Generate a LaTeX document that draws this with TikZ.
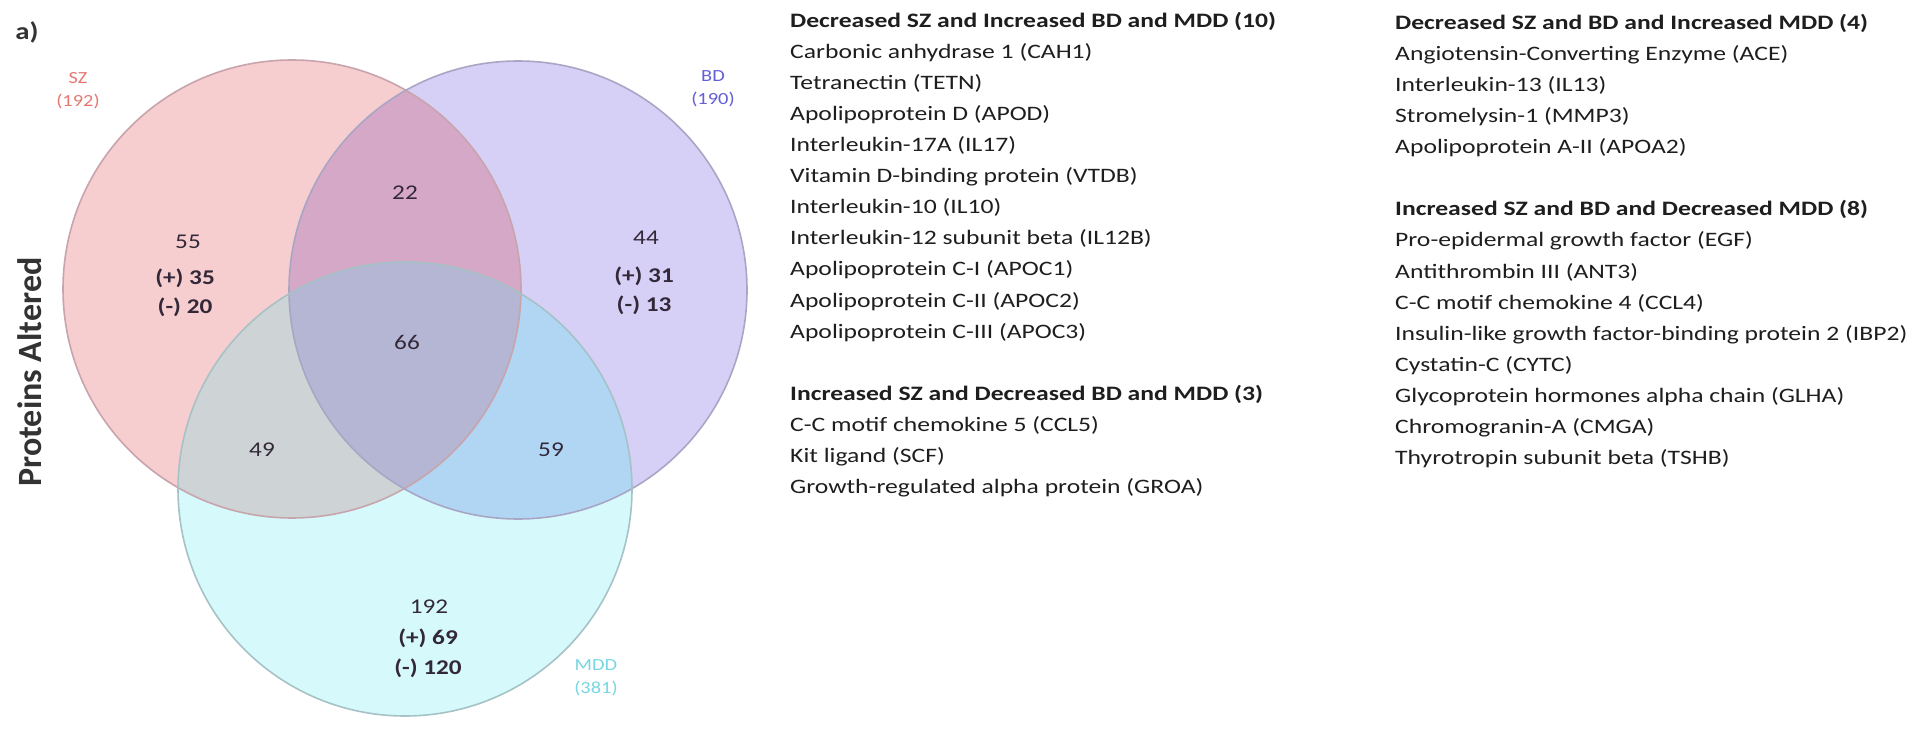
\documentclass[tikz,border=0pt]{standalone}
\usepackage{fontspec}
\setmainfont{Carlito}[FakeStretch=1.2]
\newfontfamily\plainfont{Carlito}
\newfontfamily\listfont{Carlito}[FakeStretch=1.25]
\definecolor{SZf}{HTML}{F6CED0}
\definecolor{BDf}{HTML}{D6D0F6}
\definecolor{MDDf}{HTML}{D6FAFC}
\definecolor{SZBDf}{HTML}{D6A8C8}
\definecolor{SZMDDf}{HTML}{CED4D6}
\definecolor{BDMDDf}{HTML}{B0D6F4}
\definecolor{ALLf}{HTML}{B4B6D4}
\definecolor{SZtxt}{HTML}{E67873}
\definecolor{BDtxt}{HTML}{645FD7}
\definecolor{MDDtxt}{HTML}{78D7E1}
\definecolor{numtxt}{HTML}{332838}
\definecolor{listtxt}{HTML}{1E1E1E}
\definecolor{SZline}{HTML}{C8A4AC}
\definecolor{BDline}{HTML}{A8A6C4}
\definecolor{MDDline}{HTML}{A6C2C6}
\tikzset{
  num/.style={text=numtxt, font=\fontsize{21}{24}\selectfont, inner sep=0pt, align=center},
  numb/.style={num, font=\fontsize{21}{24}\selectfont\bfseries},
  setlbl/.style={font=\fontsize{17}{20}\selectfont, inner sep=0pt},
  listline/.style={anchor=west, inner sep=0pt, text=listtxt, font=\listfont\fontsize{20.5}{24}\selectfont, text height=14pt, text depth=4pt},
  listhead/.style={listline, font=\listfont\fontsize{20.5}{24}\selectfont\bfseries},
}
\begin{document}
\begin{tikzpicture}[x=1pt,y=-1pt]
\useasboundingbox (0,0) rectangle (1920,730);
\fill[white] (0,0) rectangle (1920,730);
\coordinate (csz) at (292,289);
\coordinate (cbd) at (518,290);
\coordinate (cmdd) at (405,489);
% region fills
\fill[SZf] (csz) circle[radius=229pt];
\fill[BDf] (cbd) circle[radius=229pt];
\fill[MDDf] (cmdd) circle[radius=227pt];
\begin{scope}
  \clip (csz) circle[radius=229pt];
  \fill[SZBDf] (cbd) circle[radius=229pt];
  \fill[SZMDDf] (cmdd) circle[radius=227pt];
\end{scope}
\begin{scope}
  \clip (cbd) circle[radius=229pt];
  \fill[BDMDDf] (cmdd) circle[radius=227pt];
  \clip (csz) circle[radius=229pt];
  \fill[ALLf] (cmdd) circle[radius=227pt];
\end{scope}
% outlines
\draw[SZline, line width=1.6pt] (csz) circle[radius=229pt];
\draw[BDline, line width=1.6pt] (cbd) circle[radius=229pt];
\draw[MDDline, line width=1.6pt] (cmdd) circle[radius=227pt];
% panel label and axis title
\node[font=\fontsize{24}{26}\selectfont\bfseries, text=black!80, inner sep=0pt] (panel) at (27,32) {a)};
\node[font=\plainfont\fontsize{34}{36}\selectfont\bfseries, text=black!80, rotate=90, inner sep=0pt] (ylab) at (30,372) {Proteins Altered};
% set labels
\node[setlbl, text=SZtxt] (szlbl) at (78,78) {SZ};
\node[setlbl, text=SZtxt] (szn) at (78,101) {(192)};
\node[setlbl, text=BDtxt] (bdlbl) at (713,76) {BD};
\node[setlbl, text=BDtxt] (bdn) at (713,99) {(190)};
\node[setlbl, text=MDDtxt] (mddlbl) at (596,665) {MDD};
\node[setlbl, text=MDDtxt] (mddn) at (596,688) {(381)};
% region counts
\node[num] (n22) at (405,193) {22};
\node[num] (n55) at (188,242) {55};
\node[numb] (n55p) at (185,278) {(+) 35};
\node[numb] (n55m) at (185,307) {(-) 20};
\node[num] (n44) at (646,238) {44};
\node[numb] (n44p) at (644,276) {(+) 31};
\node[numb] (n44m) at (644,305) {(-) 13};
\node[num] (n66) at (407,342) {66};
\node[num] (n49) at (262,450) {49};
\node[num] (n59) at (551,450) {59};
\node[num] (n192) at (429,607) {192};
\node[numb] (n192p) at (428,638) {(+) 69};
\node[numb] (n192m) at (428,668) {(-) 120};
% left column lists
\node[listhead] (a0) at (790,23) {Decreased SZ and Increased BD and MDD (10)};
\foreach \t [count=\i] in {{Carbonic anhydrase 1 (CAH1)},{Tetranectin (TETN)},{Apolipoprotein D (APOD)},{Interleukin-17A (IL17)},{Vitamin D-binding protein (VTDB)},{Interleukin-10 (IL10)},{Interleukin-12 subunit beta (IL12B)},{Apolipoprotein C-I (APOC1)},{Apolipoprotein C-II (APOC2)},{Apolipoprotein C-III (APOC3)}}
  \node[listline] (a\i) at (790,23+31*\i) {\t};
\node[listhead] (b0) at (790,395) {Increased SZ and Decreased BD and MDD (3)};
\foreach \t [count=\i] in {{C-C motif chemokine 5 (CCL5)},{Kit ligand (SCF)},{Growth-regulated alpha protein (GROA)}}
  \node[listline] (b\i) at (790,395+31*\i) {\t};
% right column lists
\node[listhead] (c0) at (1395,25) {Decreased SZ and BD and Increased MDD (4)};
\foreach \t [count=\i] in {{Angiotensin-Converting Enzyme (ACE)},{Interleukin-13 (IL13)},{Stromelysin-1 (MMP3)},{Apolipoprotein A-II (APOA2)}}
  \node[listline] (c\i) at (1395,25+31*\i) {\t};
\node[listhead] (d0) at (1395,211) {Increased SZ and BD and Decreased MDD (8)};
\foreach \t [count=\i] in {{Pro-epidermal growth factor (EGF)},{Antithrombin III (ANT3)},{C-C motif chemokine 4 (CCL4)},{Insulin-like growth factor-binding protein 2 (IBP2)},{Cystatin-C (CYTC)},{Glycoprotein hormones alpha chain (GLHA)},{Chromogranin-A (CMGA)},{Thyrotropin subunit beta (TSHB)}}
  \node[listline] (d\i) at (1395,211+31*\i) {\t};
\end{tikzpicture}
\end{document}
